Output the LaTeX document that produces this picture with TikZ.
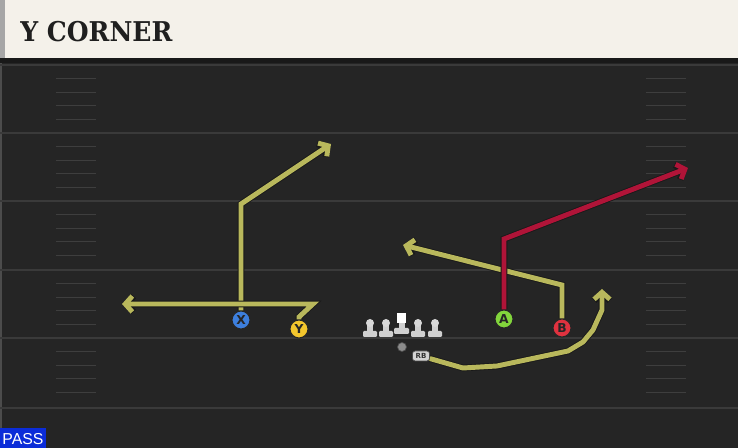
\documentclass[tikz,border=0pt]{standalone}
\usepackage{fontspec}
\usetikzlibrary{arrows.meta}
\newfontfamily\titlefont{DejaVu Serif}
\newfontfamily\labelfont{DejaVu Sans}
\newfontfamily\tagfont{Liberation Sans}
\definecolor{field}{HTML}{252525}
\definecolor{yardline}{HTML}{3A3A3A}
\definecolor{hashline}{HTML}{3E3E3E}
\definecolor{header}{HTML}{F4F1EA}
\definecolor{route}{HTML}{B9B85C}
\definecolor{hotroute}{HTML}{B01438}
\definecolor{xblue}{HTML}{3D7FDD}
\definecolor{yyellow}{HTML}{F3C62D}
\definecolor{agreen}{HTML}{82D53C}
\definecolor{bred}{HTML}{E0323F}
\definecolor{lineman}{HTML}{CFCFCF}
\definecolor{passblue}{HTML}{0B2CD8}
\tikzset{
  player/.style={circle, draw=black!85, line width=0.6pt, minimum size=0.36cm, inner sep=0pt, font=\labelfont\bfseries\fontsize{7}{7}\selectfont, text=black!85},
  route/.style={draw=route, line width=2.8pt, -{Straight Barb[length=4pt,width=9pt]}, preaction={draw=black!90, line width=3.8pt}},
  hotroute/.style={route, draw=hotroute},
}
\begin{document}
\begin{tikzpicture}[x=0.02cm, y=-0.02cm]
\useasboundingbox (0,0) rectangle (738,448);
% field
\fill[field] (0,58) rectangle (738,448);
\fill[black!70] (0,58) rectangle (2,448);
\foreach \l in {65,133,201,270,338,408}
  \draw[yardline, line width=0.9pt] (0,\l) -- (738,\l);
\foreach \l in {65,133,201,270,338}
  \foreach \k in {1,...,4} {
    \draw[hashline, line width=0.7pt] (56,\l+\k*13.6) -- (96,\l+\k*13.6);
    \draw[hashline, line width=0.7pt] (646,\l+\k*13.6) -- (686,\l+\k*13.6);
  }
% header
\fill[header] (0,0) rectangle (738,58);
\fill[black!35] (0,0) rectangle (5,58);
\fill[black!90] (0,58) rectangle (738,63);
\node[anchor=base west, inner sep=0pt, xscale=0.92, font=\titlefont\bfseries\fontsize{15.5}{15.5}\selectfont, text=black!88] (title) at (20,42) {Y CORNER};
% offensive line
\foreach \x in {370,386,418,435} {
  \fill[lineman] (\x-3,323) rectangle (\x+3,333);
  \fill[lineman, rounded corners=0.6pt] (\x-7,331) rectangle (\x+7,337);
  \fill[lineman!80] (\x,323) circle (4);
}
\fill[lineman] (399,322) rectangle (405,330);
\fill[lineman, rounded corners=0.6pt] (394,328) rectangle (409,334);
\fill[white] (397,313) rectangle (406,323);
\node[circle, fill=black!45, draw=black!70, minimum size=0.18cm, inner sep=0pt] (qb) at (402,347) {};
\node[rounded corners=1.5pt, fill=lineman!90, draw=black!70, minimum width=0.34cm, minimum height=0.2cm, inner sep=0pt, font=\labelfont\bfseries\fontsize{4}{4}\selectfont, text=black!80] (rb) at (421,356) {RB};
% receivers
\node[player, fill=xblue] (X) at (241,320) {X};
\node[player, fill=yyellow] (Y) at (299,329) {Y};
\node[player, fill=agreen] (A) at (504,319) {A};
\node[player, fill=bred] (B) at (562,328) {B};
% route points
\coordinate (xbreak) at (241,204);
\coordinate (xend) at (331,144);
\coordinate (ystem) at (299,317);
\coordinate (ybreak) at (313,304);
\coordinate (yend) at (122,304);
\coordinate (bbreak) at (562,285);
\coordinate (bend) at (403,245);
\coordinate (abreak) at (504,239);
\coordinate (aend) at (688,168);
% routes
\draw[route] (X) -- (xbreak) -- (xend);
\draw[route] (Y) -- (ystem) -- (ybreak) -- (yend);
\draw[route] (B) -- (bbreak) -- (bend);
\draw[route] (rb) -- (463,368) -- (497,366) -- (568,351) -- (583,342) -- (593,330) -- (602,310) -- (602,289);
\draw[hotroute] (A) -- (abreak) -- (aend);
% play type
\fill[passblue] (0,428) rectangle (46,448);
\node[font=\tagfont\fontsize{9}{9}\selectfont, text=white, inner sep=0pt] (playtype) at (23,439) {PASS};
\end{tikzpicture}
\end{document}
